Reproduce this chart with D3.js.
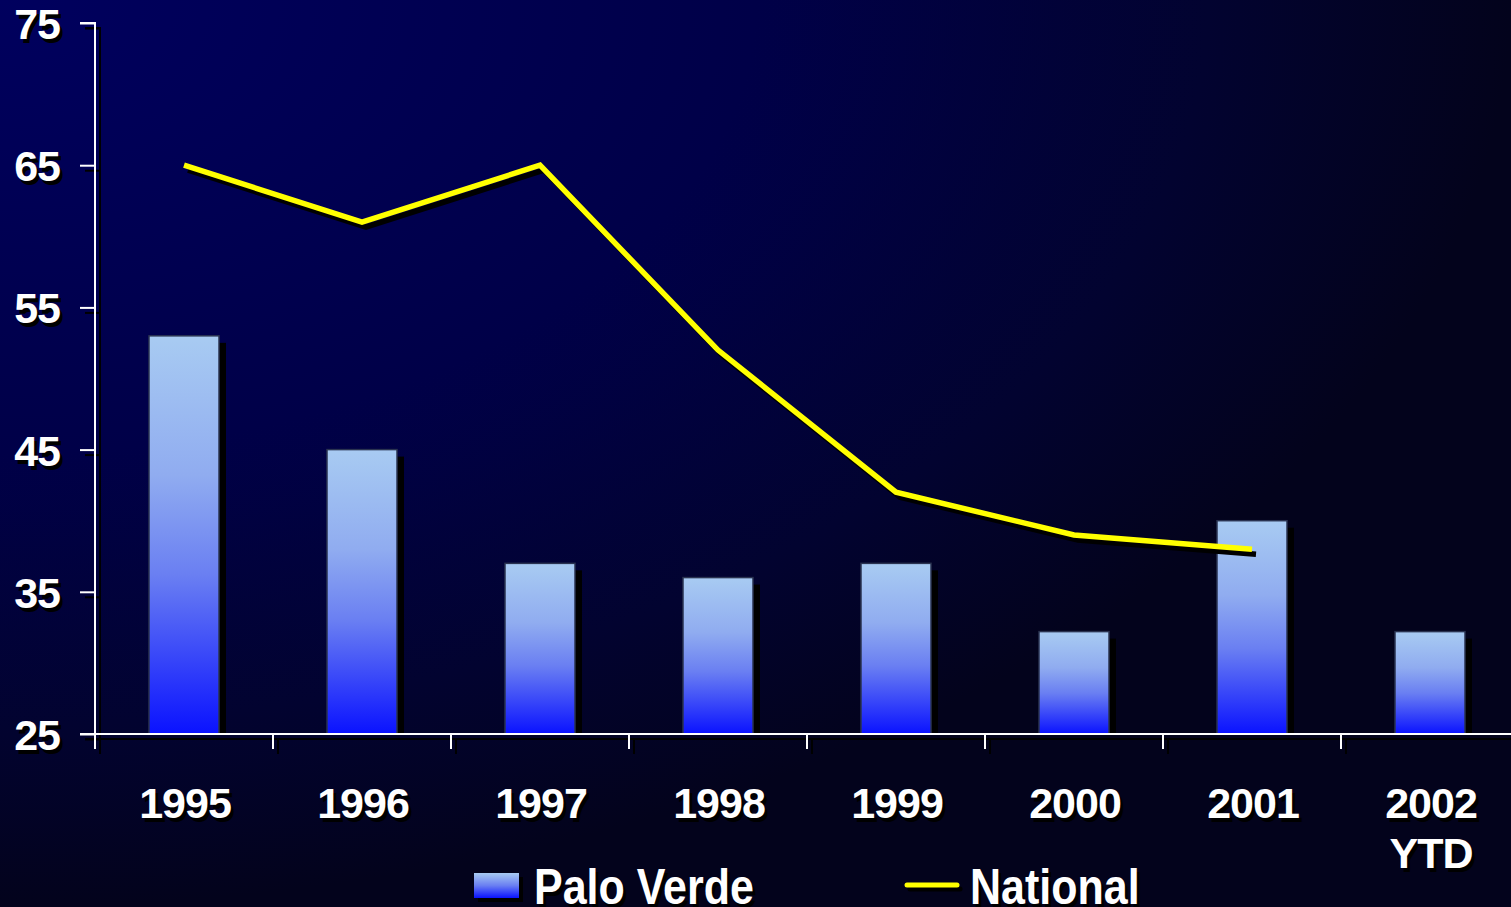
<!DOCTYPE html>
<html><head><meta charset="utf-8">
<script src="https://cdn.jsdelivr.net/npm/d3@7/dist/d3.min.js"></script>
<style>html,body{margin:0;padding:0;background:#000030;overflow:hidden}svg{display:block}</style>
</head><body>
<svg id="chart" width="1511" height="907"></svg>
<script>
const categories = ["1995","1996","1997","1998","1999","2000","2001","2002\nYTD"];
const paloVerde = [53, 45, 37, 36, 37, 32.2, 40, 32.2];
const national = [65, 61, 65, 52, 42, 39, 38, null];
const yTicks = [25, 35, 45, 55, 65, 75];
const seriesNames = ["Palo Verde", "National"];

const W = 1511, H = 907;
const svg = d3.select("#chart");
const defs = svg.append("defs");

const bg = defs.append("radialGradient").attr("id","bg")
  .attr("cx",0).attr("cy",0).attr("r",1).attr("fx",0).attr("fy",0);
bg.append("stop").attr("offset","0").attr("stop-color","#00005e");
bg.append("stop").attr("offset","0.5").attr("stop-color","#000048");
bg.append("stop").attr("offset","0.8").attr("stop-color","#020330");
bg.append("stop").attr("offset","1").attr("stop-color","#03031c");

const barG = defs.append("linearGradient").attr("id","barG")
  .attr("x1",0).attr("y1",0).attr("x2",0).attr("y2",1);
barG.append("stop").attr("offset","0").attr("stop-color","#a8cbf2");
barG.append("stop").attr("offset","0.35").attr("stop-color","#90acf0");
barG.append("stop").attr("offset","0.6").attr("stop-color","#6a7ff2");
barG.append("stop").attr("offset","1").attr("stop-color","#0a12ff");

const legG = defs.append("linearGradient").attr("id","legG")
  .attr("x1",0).attr("y1",0).attr("x2",0).attr("y2",1);
legG.append("stop").attr("offset","0").attr("stop-color","#a8cbf2");
legG.append("stop").attr("offset","0.5").attr("stop-color","#6a7ff2");
legG.append("stop").attr("offset","1").attr("stop-color","#0a12ff");

svg.append("rect").attr("width",W).attr("height",H).attr("fill","url(#bg)");

const pLeft = 95, pRight = 1519, pTop = 23, pBottom = 734;
const x = d3.scaleBand().domain(categories).range([pLeft, pRight]).paddingInner(0).paddingOuter(0);
const y = d3.scaleLinear().domain([25,75]).range([pBottom, pTop]);
const barW = 70;
const cx = d => x(d) + x.bandwidth()/2;

const font = "'Liberation Sans', Arial, sans-serif";

function drawAxes(g, color, dx, dy) {
  const ga = g.append("g").attr("transform",`translate(${dx},${dy})`);
  const yAx = d3.axisLeft(y).tickValues(yTicks).tickSize(15).tickFormat("");
  ga.append("g").attr("transform",`translate(${pLeft},0)`).call(yAx)
    .call(s => s.select(".domain").attr("d",`M-15,${pTop}H0V${pBottom+15}`));
  const xTickVals = categories.map(c => x(c)).slice(1).concat([pRight]);
  ga.append("g").selectAll("line").data(xTickVals).join("line")
    .attr("x1",d=>d).attr("x2",d=>d).attr("y1",pBottom).attr("y2",pBottom+15);
  ga.append("line").attr("x1",pLeft-15).attr("x2",W+20).attr("y1",pBottom).attr("y2",pBottom);
  ga.selectAll("line,path").attr("stroke",color).attr("stroke-width",2).attr("fill","none");
  ga.selectAll("text").remove();
}
drawAxes(svg, "#000", 5, 5);

const bars = svg.append("g");
bars.selectAll("rect.sh").data(categories).join("rect").attr("class","sh")
  .attr("x",d=>cx(d)-barW/2+7).attr("width",barW)
  .attr("y",(d,i)=>y(paloVerde[i])+7).attr("height",(d,i)=>pBottom-y(paloVerde[i])-7)
  .attr("fill","#000");
bars.selectAll("rect.b").data(categories).join("rect").attr("class","b")
  .attr("x",d=>cx(d)-barW/2).attr("width",barW)
  .attr("y",(d,i)=>y(paloVerde[i])).attr("height",(d,i)=>pBottom-y(paloVerde[i]))
  .attr("fill","url(#barG)").attr("stroke","#2a3350").attr("stroke-width",1.5);

drawAxes(svg, "#fff", 0, 0);

const lineData = categories.map((c,i)=>({c, v: national[i]})).filter(d=>d.v!=null);
const line = d3.line().x(d=>cx(d.c)).y(d=>y(d.v));
svg.append("path").datum(lineData).attr("d",line).attr("transform","translate(4,5)")
  .attr("fill","none").attr("stroke","#000").attr("stroke-width",5.5);
svg.append("path").datum(lineData).attr("d",line)
  .attr("fill","none").attr("stroke","#ffff00").attr("stroke-width",5.5);

function shText(g, txt, xx, yy, anchor, size, sx) {
  sx = sx || 1;
  [["#000",3,4],["#fff",0,0]].forEach(([col,ox,oy]) => {
    g.append("text").attr("transform",`translate(${xx+ox},${yy+oy}) scale(${sx},1)`)
      .attr("text-anchor",anchor)
      .attr("font-family",font).attr("font-weight","bold").attr("font-size",size)
      .attr("fill",col).text(txt);
  });
}
const tg = svg.append("g").attr("letter-spacing","-1");
yTicks.forEach(t => shText(tg, String(t), 60, y(t)+16, "end", 43));
categories.forEach(c => {
  const parts = c.split("\n");
  parts.forEach((p,k) => shText(tg, p, cx(c)+1, 818 + k*50, "middle", 43));
});

const lg = svg.append("g");
lg.append("rect").attr("x",478).attr("y",877).attr("width",45).attr("height",25).attr("fill","#000");
lg.append("rect").attr("x",474).attr("y",873).attr("width",45).attr("height",25).attr("fill","url(#legG)");
const lt = svg.append("g");
shText(lt, seriesNames[0], 534, 904, "start", 50, 0.86);
lg.append("line").attr("x1",910).attr("x2",960).attr("y1",889).attr("y2",889).attr("stroke","#000").attr("stroke-width",5).attr("stroke-linecap","round");
lg.append("line").attr("x1",907).attr("x2",957).attr("y1",885).attr("y2",885).attr("stroke","#ffff00").attr("stroke-width",5).attr("stroke-linecap","round");
shText(lt, seriesNames[1], 970, 904, "start", 50, 0.86);
</script>
</body></html>
